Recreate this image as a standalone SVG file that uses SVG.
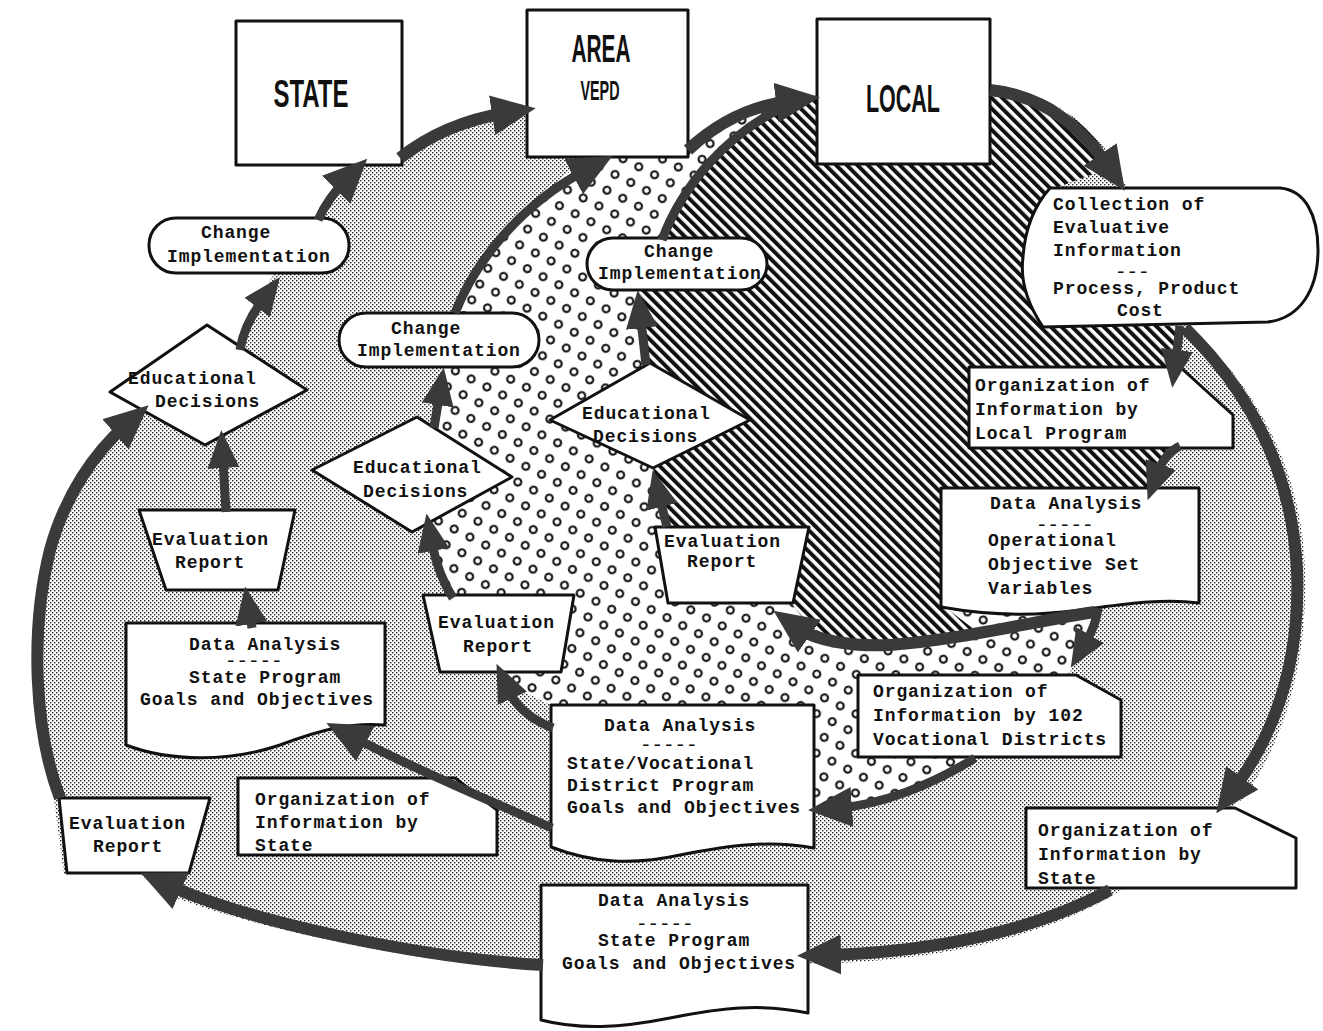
<svg xmlns="http://www.w3.org/2000/svg" width="1323" height="1031" viewBox="0 0 1323 1031">
<style>
.node{fill:#fff;stroke:#111;stroke-width:3;stroke-linejoin:round}
.band{fill:none;stroke:#3a3a3a;stroke-width:9;stroke-linecap:butt}
.wide{stroke-width:12}
.t{font-family:"Liberation Mono","DejaVu Sans Mono",monospace;font-weight:bold;font-size:18px;letter-spacing:0.9px;fill:#111}
.d{font-family:"Liberation Mono","DejaVu Sans Mono",monospace;font-weight:bold;font-size:12px;fill:#111}
.h{font-family:"Liberation Sans",Arial,sans-serif;font-weight:bold;fill:#111;text-anchor:middle}
</style>
<defs>
<pattern id="stip" width="4" height="4" patternUnits="userSpaceOnUse"><rect width="4" height="4" fill="#fff"/><rect width="1.4" height="1.4" fill="#222"/><rect x="2" y="2" width="1.4" height="1.4" fill="#222"/></pattern>
<pattern id="dots" width="25" height="25" patternUnits="userSpaceOnUse" patternTransform="rotate(-18)"><rect width="25" height="25" fill="#fff"/><circle cx="6" cy="6" r="3.5" fill="#fff" stroke="#111" stroke-width="2.1"/><circle cx="18.5" cy="18.5" r="3.5" fill="#fff" stroke="#111" stroke-width="2.1"/></pattern>
<pattern id="hatch" width="7.5" height="7.5" patternUnits="userSpaceOnUse" patternTransform="rotate(-45)"><rect width="7.5" height="7.5" fill="#fff"/><rect width="4" height="7.5" fill="#111"/></pattern>
<marker id="hb" markerUnits="userSpaceOnUse" markerWidth="44" markerHeight="40" refX="14" refY="20" orient="auto" viewBox="0 0 44 40"><path d="M0,0 L44,20 L0,40 Z" fill="#3a3a3a"/></marker>
<marker id="hs" markerUnits="userSpaceOnUse" markerWidth="38" markerHeight="32" refX="8" refY="16" orient="auto" viewBox="0 0 38 32"><path d="M0,0 L38,16 L0,32 Z" fill="#3a3a3a"/></marker>
</defs>
<rect width="1323" height="1031" fill="#fff"/>
<g id="regions">
<path id="r-state" fill="url(#stip)" d="M 366,163 L 402,150 C 430,132 470,116 530,108 L 690,140 L 800,96 L 990,86 C 1045,90 1090,120 1117,166 L 1190,326 C 1254,386 1302,466 1305,570 C 1308,672 1280,746 1244,798 L 1112,896 C 1042,936 942,962 808,964 L 541,970 C 420,964 250,928 160,892 L 140,874 L 64,874 L 54,800 C 30,730 28,630 48,550 C 64,494 92,450 120,428 L 238,352 Q 241,326 257,297 L 314,222 Q 326,196 366,163 Z"/>
<path id="r-area" fill="url(#dots)" d="M 590,157 L 688,157 L 688,150 C 718,122 750,106 790,101 L 950,350 L 1098,606 Q 1096,625 1086,642 L 1070,672 L 990,720 L 975,758 C 930,786 880,805 838,808 L 814,810 L 814,705 L 551,705 L 520,690 L 505,672 L 561,672 L 574,595 L 453,595 Q 438,572 432,540 L 428,515 L 450,480 L 434,428 L 439,397 L 441,367 L 455,313 C 475,262 520,205 590,157 Z"/>
<path id="r-local" fill="url(#hatch)" d="M 790,101 L 990,86 C 1045,90 1088,120 1115,166 L 1050,190 L 1045,326 L 1183,326 Q 1179,360 1175,385 L 1178,448 Q 1166,455 1158,472 L 1150,492 L 945,492 L 941,604 L 975,630 C 940,642 915,645 890,645 C 850,647 815,640 793,605 L 809,527 L 668,527 L 660,499 L 653,468 L 720,420 L 650,368 L 646,365 L 641,320 L 638,290 L 662,240 C 680,192 722,132 790,101 Z"/>
</g>
<g id="nodes">
<g id="n-state"><rect class="node" x="236" y="21" width="166" height="144"/><text class="h" x="311" y="107" font-size="38" textLength="75" lengthAdjust="spacingAndGlyphs">STATE</text></g>
<g id="n-area"><rect class="node" x="527" y="10" width="161" height="147"/><text class="h" x="601" y="62" font-size="38" textLength="59" lengthAdjust="spacingAndGlyphs">AREA</text><text class="h" x="600" y="100" font-size="28" textLength="39" lengthAdjust="spacingAndGlyphs">VEPD</text></g>
<g id="n-local"><rect class="node" x="817" y="19" width="173" height="145"/><text class="h" x="903" y="112" font-size="38" textLength="74" lengthAdjust="spacingAndGlyphs">LOCAL</text></g>
<g id="n-collection"><path class="node" d="M1050,188 L1280,188 C1305,190 1318,215 1318,250 C1318,290 1300,318 1268,322 L1043,327 C1028,305 1020,280 1023,257 C1025,228 1035,205 1050,188 Z"/>
<text class="t" x="1053" y="210">Collection of</text><text class="t" x="1053" y="233">Evaluative</text><text class="t" x="1053" y="256">Information</text><text class="d" transform="translate(1115,276) scale(1.6,1)">---</text><text class="t" x="1053" y="294">Process, Product</text><text class="t" x="1117" y="316">Cost</text></g>
<g id="n-orglocal"><path class="node" d="M969,367 L1180,367 L1233,415 L1233,448 L969,448 Z"/><text class="t" x="975" y="391">Organization of</text><text class="t" x="975" y="415">Information by</text><text class="t" x="975" y="439">Local Program</text></g>
<g id="n-daop"><path class="node" d="M941,488 L1199,488 L1199,603 C1160,598 1120,605 1080,610 C1030,617 980,614 941,607 Z"/><text class="t" x="990" y="509">Data Analysis</text><text class="d" transform="translate(1036,529) scale(1.6,1)">-----</text><text class="t" x="988" y="546">Operational</text><text class="t" x="988" y="570">Objective Set</text><text class="t" x="988" y="594">Variables</text></g>
<g id="n-org102"><path class="node" d="M858,675 L1076,675 L1121,700 L1121,757 L858,757 Z"/><text class="t" x="873" y="697">Organization of</text><text class="t" x="873" y="721">Information by 102</text><text class="t" x="873" y="745">Vocational Districts</text></g>
<g id="n-orgstate-r"><path class="node" d="M1026,808 L1235,808 L1296,838 L1296,888 L1026,888 Z"/><text class="t" x="1038" y="836">Organization of</text><text class="t" x="1038" y="860">Information by</text><text class="t" x="1038" y="884">State</text></g>
<g id="n-dabottom"><path class="node" d="M541,885 L808,885 L808,1013 C760,1003 720,1008 670,1018 C620,1028 580,1030 541,1020 Z"/><text class="t" x="598" y="906">Data Analysis</text><text class="d" transform="translate(636,928) scale(1.6,1)">-----</text><text class="t" x="598" y="946">State Program</text><text class="t" x="562" y="969">Goals and Objectives</text></g>
<g id="n-damid"><path class="node" d="M551,705 L814,705 L814,848 C770,840 730,845 680,855 C630,866 590,862 551,847 Z"/><text class="t" x="604" y="731">Data Analysis</text><text class="d" transform="translate(640,749) scale(1.6,1)">-----</text><text class="t" x="567" y="769">State/Vocational</text><text class="t" x="567" y="791">District Program</text><text class="t" x="567" y="813">Goals and Objectives</text></g>
<g id="n-daleft"><path class="node" d="M126,623 L385,623 L385,725 C350,722 320,730 280,745 C230,762 170,762 126,745 Z"/><text class="t" x="189" y="650">Data Analysis</text><text class="d" transform="translate(225,665) scale(1.6,1)">-----</text><text class="t" x="189" y="683">State Program</text><text class="t" x="140" y="705">Goals and Objectives</text></g>
<g id="n-orgstate-l"><path class="node" d="M238,778 L455,778 L497,810 L497,855 L238,855 Z"/><text class="t" x="255" y="805">Organization of</text><text class="t" x="255" y="828">Information by</text><text class="t" x="255" y="851">State</text></g>
<g id="n-evala"><path class="node" d="M139,510 L295,510 L278,590 L166,590 Z"/><text class="t" x="152" y="545">Evaluation</text><text class="t" x="175" y="568">Report</text></g>
<g id="n-evalb"><path class="node" d="M423,595 L574,595 L561,672 L440,672 Z"/><text class="t" x="438" y="628">Evaluation</text><text class="t" x="463" y="652">Report</text></g>
<g id="n-evalc"><path class="node" d="M59,798 L210,798 L189,873 L67,873 Z"/><text class="t" x="69" y="829">Evaluation</text><text class="t" x="93" y="852">Report</text></g>
<g id="n-evald"><path class="node" d="M655,527 L809,527 L793,603 L668,603 Z"/><text class="t" x="664" y="547">Evaluation</text><text class="t" x="687" y="567">Report</text></g>
<g id="n-edleft"><path class="node" d="M110,392 L207,325 L307,390 L205,445 Z"/><text class="t" x="128" y="384">Educational</text><text class="t" x="155" y="407">Decisions</text></g>
<g id="n-edmid"><path class="node" d="M312,470 L417,417 L512,477 L412,532 Z"/><text class="t" x="353" y="473">Educational</text><text class="t" x="363" y="497">Decisions</text></g>
<g id="n-edright"><path class="node" d="M550,420 L650,363 L750,420 L653,468 Z"/><text class="t" x="582" y="419">Educational</text><text class="t" x="593" y="442">Decisions</text></g>
<g id="n-chleft"><rect class="node" x="149" y="218" width="200" height="55" rx="27"/><text class="t" x="201" y="238">Change</text><text class="t" x="167" y="262">Implementation</text></g>
<g id="n-chmid"><rect class="node" x="339" y="313" width="200" height="54" rx="27"/><text class="t" x="391" y="334">Change</text><text class="t" x="357" y="356">Implementation</text></g>
<g id="n-chright"><rect class="node" x="587" y="238" width="180" height="52" rx="26"/><text class="t" x="644" y="257">Change</text><text class="t" x="598" y="279">Implementation</text></g>
</g>
<g id="connectors">
<path class="band wide" marker-end="url(#hb)" d="M 400,158 C 428,136 462,120 506,113"/>
<path class="band wide" marker-end="url(#hb)" d="M 688,150 C 718,122 750,106 790,101"/>
<path class="band" d="M 662,240 C 680,192 722,132 800,99"/>
<path class="band wide" marker-end="url(#hb)" d="M 990,90 C 1040,95 1078,122 1108,166"/>
<path class="band" marker-end="url(#hs)" d="M 1180,326 L 1176,358"/>
<path class="band wide" marker-end="url(#hb)" d="M 1185,328 C 1248,390 1292,470 1297,570 C 1301,670 1270,740 1234,789"/>
<path class="band" marker-end="url(#hs)" d="M 1180,446 Q 1165,453 1158,472"/>
<path class="band" marker-end="url(#hs)" d="M 1098,608 Q 1096,625 1086,642"/>
<path class="band" marker-end="url(#hb)" d="M 975,758 C 930,786 880,805 838,808"/>
<path class="band" marker-end="url(#hb)" d="M 552,828 C 500,805 420,772 353,737"/>
<path class="band" marker-end="url(#hs)" d="M 553,728 Q 520,715 509,691"/>
<path class="band" marker-end="url(#hs)" d="M 453,598 Q 438,575 432,543"/>
<path class="band" marker-end="url(#hs)" d="M 434,428 L 439,397"/>
<path class="band" marker-end="url(#hb)" d="M 455,313 C 475,262 520,205 586,170"/>
<path class="band" marker-end="url(#hs)" d="M 646,365 L 641,320"/>
<path class="band" marker-end="url(#hs)" d="M 667,527 L 660,499"/>
<path class="band wide" marker-end="url(#hb)" d="M 1095,612 C 1040,620 960,640 890,645 C 850,647 815,640 798,628"/>
<path class="band" marker-end="url(#hs)" d="M 240,350 Q 244,325 262,301"/>
<path class="band" marker-end="url(#hs)" d="M 226,512 L 223,460"/>
<path class="band" marker-end="url(#hs)" d="M 252,628 L 250,616"/>
<path class="band" marker-end="url(#hb)" d="M 318,220 Q 328,198 346,180"/>
<path class="band wide" marker-end="url(#hb)" d="M 60,798 C 34,730 30,630 50,550 C 65,495 95,452 126,425"/>
<path class="band wide" marker-end="url(#hb)" d="M 543,965 C 420,958 250,922 168,885"/>
<path class="band wide" marker-end="url(#hb)" d="M 1110,890 C 1040,928 940,952 827,955"/>
</g>
</svg>
